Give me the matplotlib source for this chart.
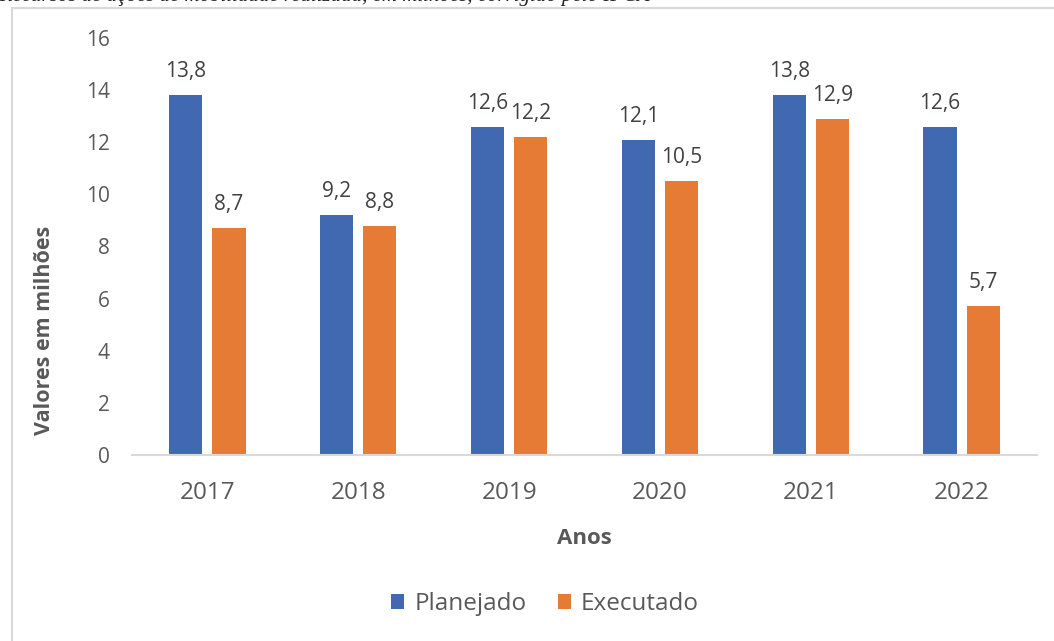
import numpy as np
import matplotlib.pyplot as plt
from matplotlib.patches import Rectangle

# Data (values in millions)
anos = ['2017', '2018', '2019', '2020', '2021', '2022']
planejado = [13.8, 9.2, 12.6, 12.1, 13.8, 12.6]
executado = [8.7, 8.8, 12.2, 10.5, 12.9, 5.7]

azul = '#4169B1'
laranja = '#E57B35'
cinza = '#595959'

plt.rcParams['font.family'] = ['Open Sans', 'DejaVu Sans']

fig = plt.figure(figsize=(10.54, 6.41), dpi=100)
fig.patch.set_facecolor('white')

# chart frame (cut off on the right and bottom, like a screenshot)
fig.patches.append(Rectangle((12 / 1054, -0.05), 1.1, 1 - 8 / 641 + 0.05,
                             transform=fig.transFigure, fill=False,
                             edgecolor='#D9D9D9', linewidth=1.5))

# cropped caption line at the very top
fig.text(650 / 1054, 1 - 6 / 641,
         'Gráfico 1 – Recursos de ações de mobilidade realizada, em milhões, corrigido pelo IPCA',
         ha='right', va='bottom', fontsize=15, style='italic',
         family='Liberation Serif', color='#222222')

ax = fig.add_axes([132 / 1054, 1 - 455 / 641, (1037 - 132) / 1054, (455 - 38) / 641])

x = np.arange(len(anos))
w = 0.22
off = 0.143
b1 = ax.bar(x - off, planejado, w, color=azul, label='Planejado')
b2 = ax.bar(x + off, executado, w, color=laranja, label='Executado')

for bars, vals in ((b1, planejado), (b2, executado)):
    for rect, v in zip(bars, vals):
        ax.text(rect.get_x() + rect.get_width() / 2, v + 0.5,
                f'{v:.1f}'.replace('.', ','), ha='center', va='bottom',
                fontsize=15, color='#404040')

ax.set_xlim(-0.5, len(anos) - 0.5)
ax.set_ylim(0, 16)
ax.set_yticks(range(0, 17, 2))
ax.set_xticks(x)
ax.set_xticklabels(anos, fontsize=17.5, color=cinza)
ax.tick_params(axis='y', labelsize=15, labelcolor=cinza, length=0, pad=16)
ax.tick_params(axis='x', length=0, pad=19)

for s in ('top', 'right', 'left'):
    ax.spines[s].set_visible(False)
ax.spines['bottom'].set_color('#D9D9D9')
ax.spines['bottom'].set_linewidth(1.5)

ax.set_ylabel('Valores em milhões', fontsize=15.5, fontweight='bold', color=cinza)
ax.yaxis.set_label_coords(-0.085, 0.30)
ax.set_xlabel('Anos', fontsize=16, fontweight='bold', color=cinza, labelpad=16)

fig.legend(handles=[b1, b2], loc='center', bbox_to_anchor=(545 / 1054, 1 - 604 / 641),
           ncol=2, frameon=False, fontsize=17.5, labelcolor=cinza,
           handlelength=0.55, handleheight=0.55, handletextpad=0.4, columnspacing=1.3)

fig.savefig('out.png', dpi=100, facecolor='white')
